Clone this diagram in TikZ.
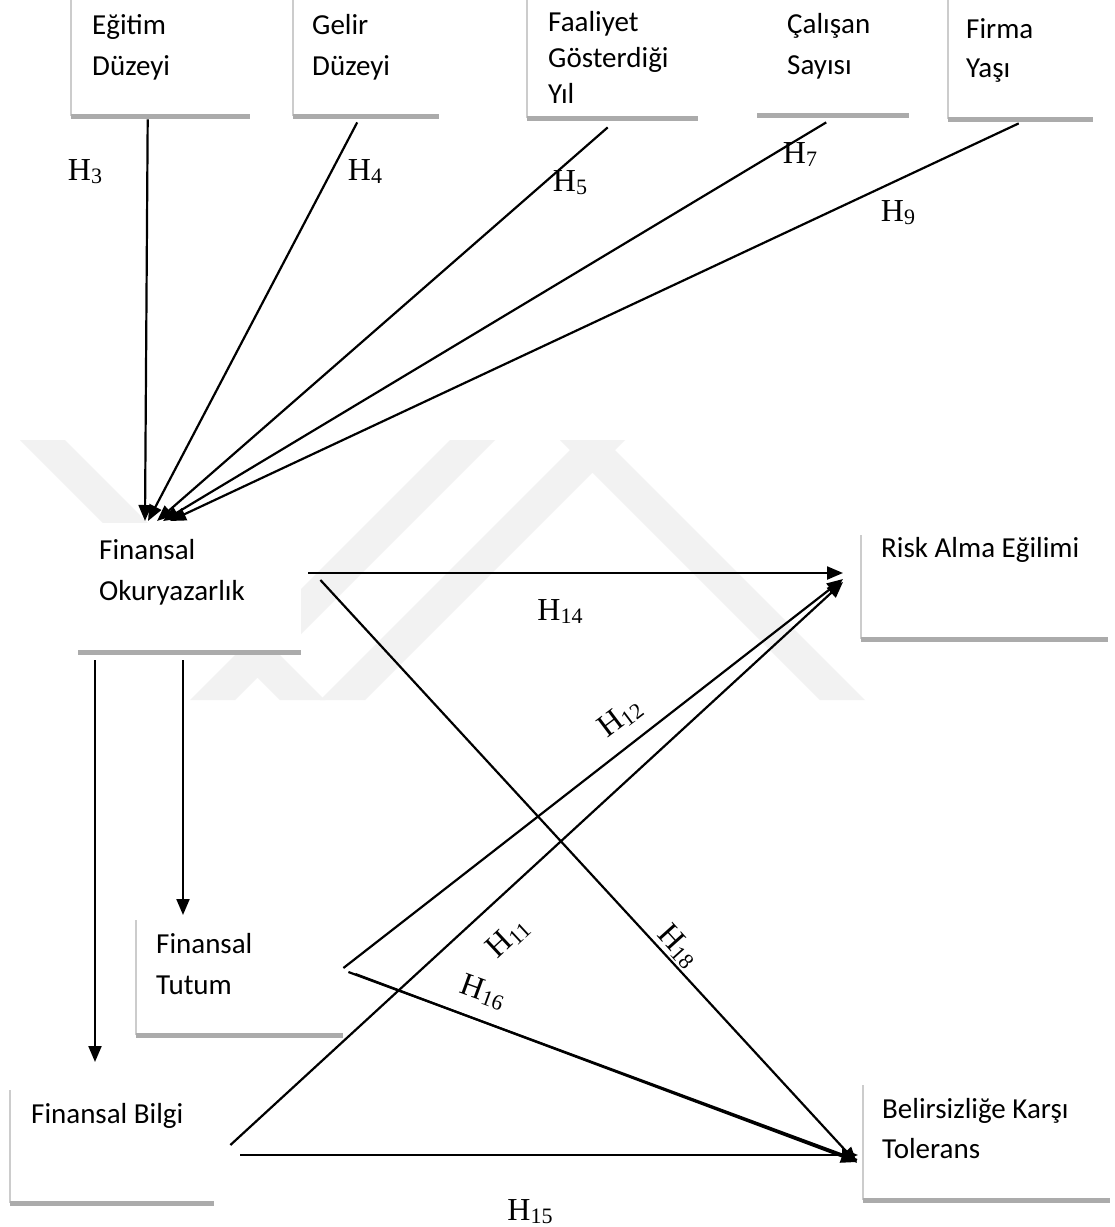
\documentclass[tikz,border=0pt]{standalone}
\usepackage{fontspec}
\setmainfont{Carlito}
\newfontfamily\tnr{Liberation Serif}
\usetikzlibrary{arrows.meta,calc}
\newcommand\hlab[1]{H\kern0.3pt\raisebox{-3pt}{\fontsize{22}{22}\selectfont#1}}
\begin{document}
\begin{tikzpicture}[x=1pt,y=-1pt,
  boxshape/.style={anchor=north west, fill=white, draw=none, inner sep=0pt},
  boxtext/.style={anchor=base west, align=left, inner sep=0pt, font=\fontsize{29}{41}\selectfont},
  sidebar/.style={draw=black!20, line width=1.4pt},
  basebar/.style={draw=black!33, line width=5.5pt},
  conn/.style={line width=2.2pt, -{Triangle[length=16pt,width=13pt]}},
  plainline/.style={line width=2.2pt},
  hyp/.style={font=\tnr\fontsize{32}{32}\selectfont, inner sep=0pt},
  wm/.style={fill=black!5, draw=none}
]
\useasboundingbox[fill=white] (0,0) rectangle (1115,1227);

% watermark
\fill[wm] (20,440) -- (65,440) -- (325,700) -- (280,700) -- cycle;
\fill[wm] (190,700) -- (450,440) -- (495,440) -- (235,700) -- cycle;
\fill[wm] (320,700) -- (580,440) -- (625,440) -- (365,700) -- cycle;
\fill[wm] (560,440) -- (605,440) -- (865,700) -- (820,700) -- cycle;

% top boxes
\node[boxshape, minimum width=179pt, minimum height=121pt] (b1) at (71,-5) {};
\node[boxshape, minimum width=146pt, minimum height=121pt] (b2) at (293,-5) {};
\node[boxshape, minimum width=171pt, minimum height=123pt] (b3) at (527,-5) {};
\node[boxshape, minimum width=152pt, minimum height=120pt] (b4) at (757,-5) {};
\node[boxshape, minimum width=145pt, minimum height=124pt] (b5) at (948,-5) {};
% middle / lower boxes
\node[boxshape, minimum width=223pt, minimum height=129pt] (fo) at (78,523) {};
\node[boxshape, minimum width=247pt, minimum height=104pt] (ra) at (861,535) {};
\node[boxshape, minimum width=207pt, minimum height=115pt] (ft) at (136,920) {};
\node[boxshape, minimum width=204pt, minimum height=113pt] (fb) at (10,1090) {};
\node[boxshape, minimum width=247pt, minimum height=115pt] (bk) at (863,1085) {};
\node[boxshape, minimum width=82pt, minimum height=102pt] (h14box) at (518,583) {};

\foreach \b in {b1,b2,b3,b5,ra,ft,fb,bk}{
  \draw[sidebar] (\b.north west) -- (\b.south west);
}
\foreach \b in {b1,b2,b3,b4,b5,fo,ra,ft,fb,bk}{
  \draw[basebar] (\b.south west) -- (\b.south east);
}

% texts (base anchor = baseline of last line)
\node[boxtext] (t1) at (92,75) {Eğitim\\Düzeyi};
\node[boxtext] (t2) at (312,75) {Gelir\\Düzeyi};
\node[boxtext, font=\fontsize{29}{36}\selectfont] (t3) at (548,103) {Faaliyet\\Gösterdiği\\Yıl};
\node[boxtext] (t4) at (787,74) {Çalışan\\Sayısı};
\node[boxtext, font=\fontsize{29}{39}\selectfont] (t5) at (966,77) {Firma\\Yaşı};
\node[boxtext] (tfo) at (99,600) {Finansal\\Okuryazarlık};
\node[boxtext] (tra) at (881,557) {Risk Alma Eğilimi};
\node[boxtext] (tft) at (156,994) {Finansal\\Tutum};
\node[boxtext] (tfb) at (31,1123) {Finansal Bilgi};
\node[boxtext, font=\fontsize{29}{40}\selectfont] (tbk) at (882,1158) {Belirsizliğe Karşı\\Tolerans};

% connectors to Finansal Okuryazarlik
\draw[conn] ($(b1.south)+(-13,3)$) -- ($(fo.north west)+(67,-2)$);
\draw[conn] ($(b2.south)+(-9,6)$) -- ($(fo.north west)+(70,-2)$);
\draw[conn] ($(b3.south)+(-5,9)$) -- ($(fo.north west)+(79,-2)$);
\draw[conn] ($(b4.south)+(-7,7)$) -- ($(fo.north west)+(85,-2)$);
\draw[conn] ($(b5.south)+(-2,4)$) -- ($(fo.north west)+(92,-2)$);

% from Finansal Okuryazarlik
\draw[conn] ($(fo.north east)+(7,50)$) -- ($(ra.north west)+(-18,38)$);
\draw[conn] ($(fo.north east)+(19,57)$) -- ($(bk.north west)+(-6,78)$);
\draw[conn] ($(fo.south west)+(17,8)$) -- ($(fb.north west)+(85,-28)$);
\draw[conn] ($(fo.south west)+(105,8)$) -- ($(ft.north west)+(47,-5)$);

% from Finansal Tutum
\draw[conn] ($(ft.north east)+(0,48)$) -- ($(ra.north west)+(-18,44)$);
\draw[plainline] ($(ft.north east)+(5,52)$) -- ($(bk.north west)+(-6,75)$);
\draw[conn] ($(ft.north east)+(12,54)$) -- ($(bk.north west)+(-6,77)$);

% from Finansal Bilgi
\draw[conn] ($(fb.north east)+(16,55)$) -- ($(ra.north west)+(-18,47)$);
\draw[conn] ($(fb.north east)+(26,65)$) -- ($(bk.north west)+(-5,70)$);

% hypothesis labels
\node[hyp] (h3) at (85,172) {\hlab{3}};
\node[hyp] (h4) at (365,172) {\hlab{4}};
\node[hyp] (h5) at (570,183) {\hlab{5}};
\node[hyp] (h7) at (800,155) {\hlab{7}};
\node[hyp] (h9) at (898,213) {\hlab{9}};
\node[hyp] (h14) at (560,612) {\hlab{14}};
\node[hyp, rotate=37] (h12) at (620,718) {\hlab{12}};
\node[hyp, rotate=43] (h11) at (508,938) {\hlab{11}};
\node[hyp, rotate=-48] (h18) at (678,946) {\hlab{18}};
\node[hyp, rotate=-20] (h16) at (483,992) {\hlab{16}};
\node[hyp] (h15) at (530,1212) {\hlab{15}};
\end{tikzpicture}
\end{document}
